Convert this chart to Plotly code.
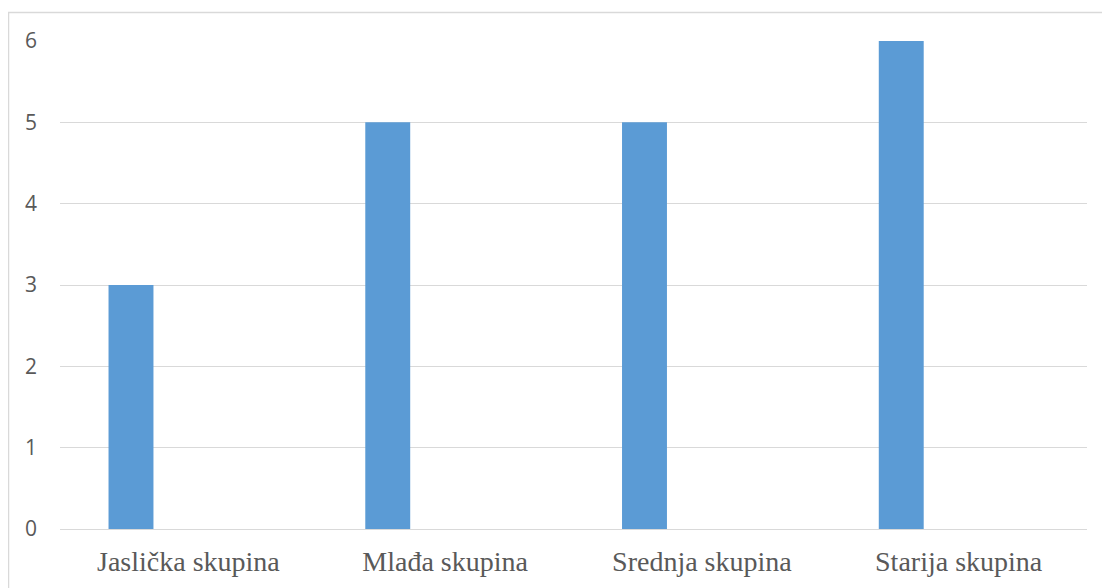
import plotly.graph_objects as go

categories = ["Jaslička skupina", "Mlađa skupina", "Srednja skupina", "Starija skupina"]
values = [3, 5, 5, 6]
y_ticks = [0, 1, 2, 3, 4, 5, 6]

# page has an 8px body margin: figure sized to fill the rest of the 1110x588 window
W, H = 1102, 580
L, R, T, B = 52, 23, 33, 59
pw = W - L - R
ph = H - T - B

fig = go.Figure()
fig.add_trace(go.Bar(
    x=categories, y=values,
    marker=dict(color="#5B9BD5", line=dict(width=0)),
    width=0.175, offset=-0.311,
    hoverinfo="x+y",
))

fig.update_layout(
    width=W, height=H,
    margin=dict(l=L, r=R, t=T, b=B),
    paper_bgcolor="white", plot_bgcolor="white",
    showlegend=False,
    xaxis=dict(
        type="category",
        showgrid=False, showline=True, linecolor="#d9d9d9", linewidth=1,
        ticks="", ticklabelstandoff=7,
        tickfont=dict(family="Liberation Serif, Times New Roman, serif", size=28, color="#595959"),
        range=[-0.5, 3.5],
    ),
    yaxis=dict(
        range=[0, 6], tickvals=y_ticks,
        showgrid=True, gridcolor="#d9d9d9", gridwidth=1,
        zeroline=False, showline=False, ticks="",
        ticklabelstandoff=22,
        tickfont=dict(family="Open Sans, Noto Sans, sans-serif", size=21, color="#595959"),
    ),
    shapes=[dict(
        type="rect", xref="paper", yref="paper",
        x0=(0.5 - L) / pw, x1=(W + 10 - L) / pw,
        y0=-(B + 10) / ph, y1=1 + (T - 4.5) / ph,
        line=dict(color="#d9d9d9", width=1.5), fillcolor="rgba(0,0,0,0)", layer="below",
    )],
)

fig.write_html("out.html")
